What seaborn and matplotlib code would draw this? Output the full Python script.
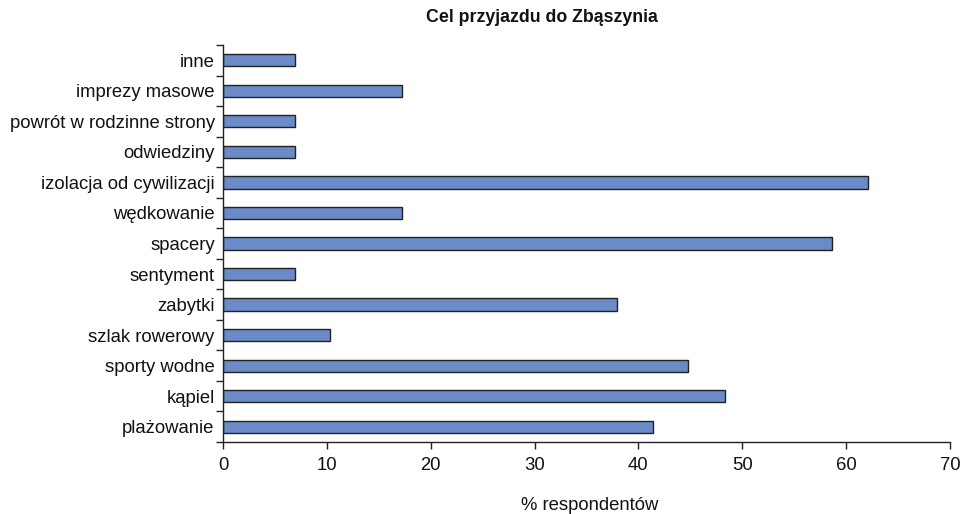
import matplotlib

matplotlib.use("Agg")
import matplotlib.pyplot as plt
import numpy as np
import pandas as pd
import seaborn as sns
from matplotlib.ticker import FixedLocator

categories = [
    "inne",
    "imprezy masowe",
    "powrót w rodzinne strony",
    "odwiedziny",
    "izolacja od cywilizacji",
    "wędkowanie",
    "spacery",
    "sentyment",
    "zabytki",
    "szlak rowerowy",
    "sporty wodne",
    "kąpiel",
    "plażowanie",
]
percent = [6.9, 17.2, 6.9, 6.9, 62.1, 17.2, 58.6, 6.9, 37.9, 10.3, 44.8, 48.3, 41.4]
x_ticks = [0, 10, 20, 30, 40, 50, 60, 70]

df = pd.DataFrame({"cel": categories, "procent": percent})

sns.set_style("white")
plt.rcParams["font.family"] = ["Liberation Sans", "DejaVu Sans"]

fig = plt.figure(figsize=(9.62, 5.14), dpi=100)
ax = fig.add_axes([223 / 962, 1 - 442 / 514, (950 - 223) / 962, (442 - 45) / 514])

sns.barplot(
    data=df,
    x="procent",
    y="cel",
    order=categories,
    orient="h",
    color="#6A8AC8",
    saturation=1,
    width=0.4,
    edgecolor="#222222",
    linewidth=1.0,
    ax=ax,
)

n = len(categories)
ax.set_xlim(0, 70)
ax.set_ylim(n - 0.5, -0.5)
ax.set_xticks(x_ticks)
ax.set_xticklabels([str(t) for t in x_ticks])

# Excel style: y ticks sit between the categories
ax.yaxis.set_minor_locator(FixedLocator(np.arange(-0.5, n, 1.0)))
ax.tick_params(axis="y", which="major", left=True, length=0, pad=6,
               labelsize=13.3, labelcolor="#111111")
ax.tick_params(axis="y", which="minor", left=True, length=5, width=1,
               color="#222222", direction="out")
ax.tick_params(axis="x", which="major", bottom=True, length=5, width=1,
               color="#222222", direction="out", labelsize=13.3, pad=6,
               labelcolor="#111111")

for side in ["top", "right"]:
    ax.spines[side].set_visible(False)
for side in ["left", "bottom"]:
    ax.spines[side].set_color("#222222")
    ax.spines[side].set_linewidth(1.0)

ax.set_ylabel("")
ax.set_xlabel("")
fig.text(590 / 962, 1 - 506 / 514, "% respondentów", ha="center", va="center",
         fontsize=13.3, color="#111111")
fig.text(542 / 962, 1 - 18 / 514, "Cel przyjazdu do Zbąszynia", ha="center",
         va="center", fontsize=12.8, fontweight="bold", color="#111111")

fig.savefig("out.png", dpi=100)
